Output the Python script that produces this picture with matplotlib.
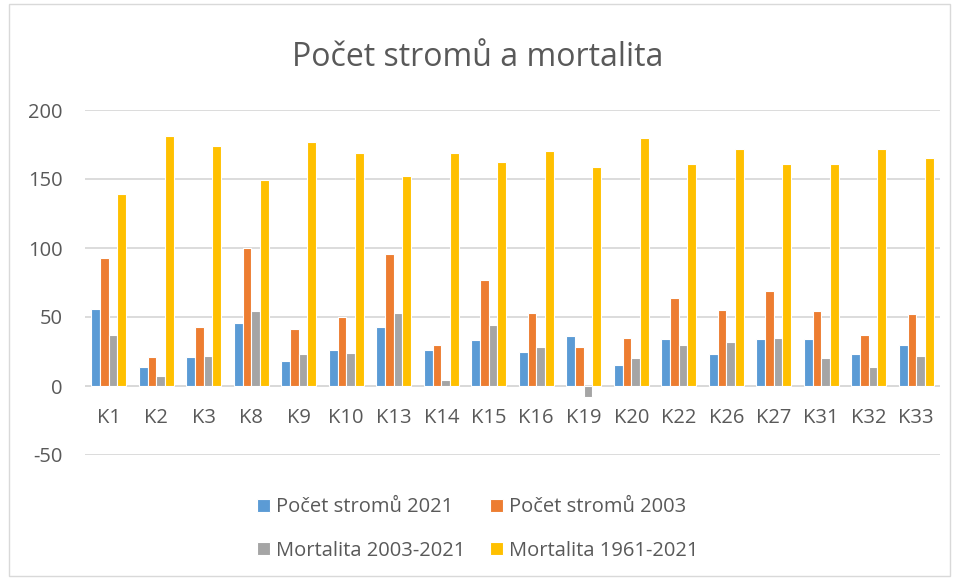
#!/usr/bin/env python3
import matplotlib.pyplot as plt
import numpy as np
from matplotlib.patches import Rectangle

plt.rcParams['font.family'] = ['Open Sans', 'DejaVu Sans']
plt.rcParams['axes.unicode_minus'] = False

CATEGORIES = ["K1", "K2", "K3", "K8", "K9", "K10", "K13", "K14", "K15",
              "K16", "K19", "K20", "K22", "K26", "K27", "K31", "K32", "K33"]
STROMY_2021 = [56, 14, 21, 46, 18, 26, 43, 26, 33, 25, 36, 15, 34, 23, 34, 34, 23, 30]
STROMY_2003 = [93, 21, 43, 100, 41, 50, 96, 30, 77, 53, 28, 35, 64, 55, 69, 54, 37, 52]
MORT_2003_2021 = [37, 7, 22, 54, 23, 24, 53, 4, 44, 28, -8, 20, 30, 32, 35, 20, 14, 22]
MORT_1961_2021 = [139, 181, 174, 149, 177, 169, 152, 169, 162, 170, 159, 180, 161, 172, 161, 161, 172, 165]

SERIES = [
    ("Počet stromů 2021", STROMY_2021, "#5b9bd5"),
    ("Počet stromů 2003", STROMY_2003, "#ed7d31"),
    ("Mortalita 2003-2021", MORT_2003_2021, "#a5a5a5"),
    ("Mortalita 1961-2021", MORT_1961_2021, "#ffc000"),
]

TEXT = "#595959"
GRID = "#d9d9d9"
FS = 14.5

fig = plt.figure(figsize=(9.55, 5.8), dpi=100)
ax = fig.add_axes([85 / 955, 1 - 455 / 580, 855 / 955, 345 / 580])

x = np.arange(len(CATEGORIES))
w = 0.183
handles = []
for i, (label, vals, color) in enumerate(SERIES):
    b = ax.bar(x + (i - 1.5) * w, vals, w, color=color, edgecolor="white",
               linewidth=0.8, label=label, zorder=3)
    handles.append(b)

ax.set_xlim(-0.5, len(CATEGORIES) - 0.5)
ax.set_ylim(-50, 200)
ax.set_yticks([-50, 0, 50, 100, 150, 200])
ax.yaxis.grid(True, color=GRID, linewidth=1.3, zorder=0)
ax.axhline(0, color=GRID, linewidth=1.3, zorder=2)
for s in ax.spines.values():
    s.set_visible(False)
ax.tick_params(length=0, labelsize=FS, colors=TEXT)
ax.tick_params(axis="y", pad=16)
ax.set_xticks([])
# category labels sit just below the zero line
for xi, cat in zip(x, CATEGORIES):
    ax.text(xi, -23, cat, ha="center", va="center", fontsize=FS, color=TEXT)

fig.text(0.5, 1 - 57 / 580, "Počet stromů a mortalita", ha="center", va="center",
         fontsize=23, color=TEXT)

order = [0, 2, 1, 3]
leg = fig.legend([handles[i] for i in order], [SERIES[i][0] for i in order],
                 ncol=2, loc="center", bbox_to_anchor=(0.5, 1 - 529 / 580),
                 frameon=False, fontsize=FS, handlelength=0.65, handleheight=0.65,
                 handletextpad=0.3, columnspacing=1.2, labelspacing=1.15)
for t in leg.get_texts():
    t.set_color(TEXT)

fig.patches.append(Rectangle((9 / 955, 4 / 580), 941 / 955, 572 / 580,
                             transform=fig.transFigure, fill=False,
                             edgecolor="#d9d9d9", linewidth=1))

plt.savefig("out.png", dpi=100)
